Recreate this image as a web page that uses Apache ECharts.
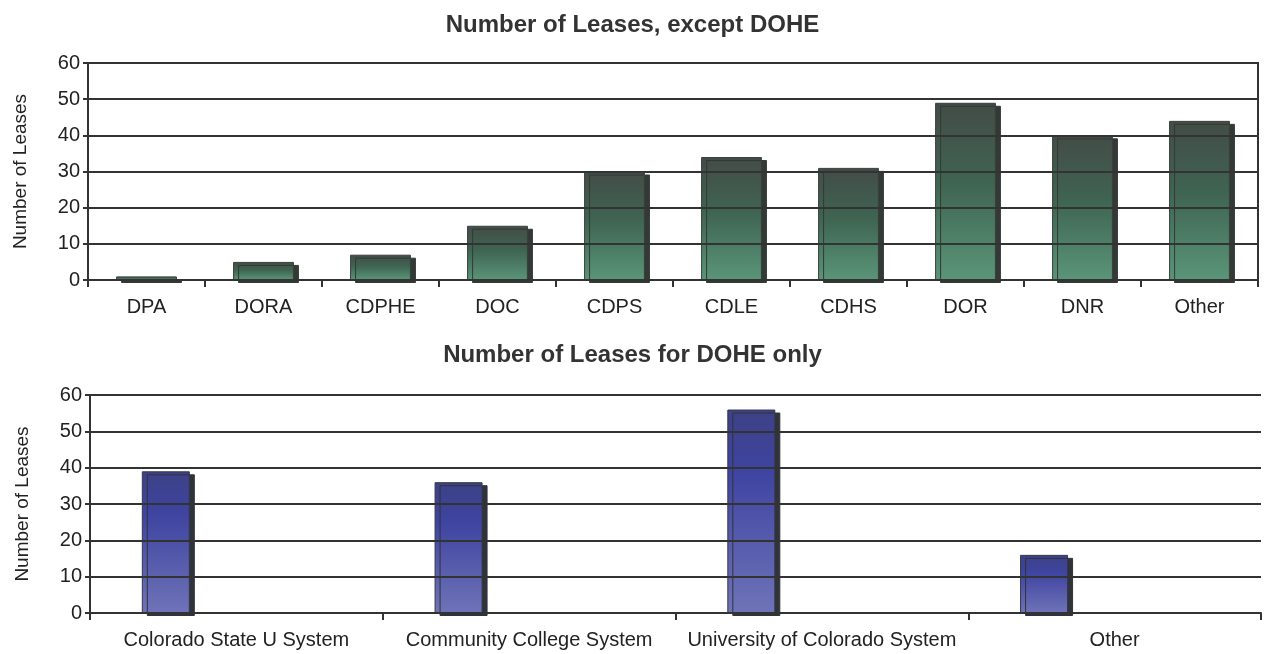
<!DOCTYPE html>
<html><head><meta charset="utf-8">
<script src="https://cdn.jsdelivr.net/npm/echarts@6/dist/echarts.min.js"></script>
<style>html,body{margin:0;padding:0;background:#fff}#c{width:1265px;height:654px}</style>
</head><body><div id="c"></div>
<script>
const topCategories = ['DPA','DORA','CDPHE','DOC','CDPS','CDLE','CDHS','DOR','DNR','Other'];
const topValues = [1,5,7,15,30,34,31,49,40,44];
const bottomCategories = ['Colorado State U System','Community College System','University of Colorado System','Other'];
const bottomValues = [39,36,56,16];
const yTicks = {min:0,max:60,interval:10};
const topTitle = 'Number of Leases, except DOHE';
const bottomTitle = 'Number of Leases for DOHE only';
const yName = 'Number of Leases';

const FONT = '"Liberation Sans", Arial, sans-serif';
const chart = echarts.init(document.getElementById('c'));
const greenGrad = new echarts.graphic.LinearGradient(0,0,0,1,[
  {offset:0,color:'#434c47'},{offset:0.45,color:'#3f6452'},{offset:1,color:'#5a9579'}]);
const blueGrad = new echarts.graphic.LinearGradient(0,0,0,1,[
  {offset:0,color:'#3d4186'},{offset:0.3,color:'#3e44a0'},{offset:1,color:'#6f73b8'}]);

function yAxis(gi){
  return {gridIndex:gi,type:'value',min:yTicks.min,max:yTicks.max,interval:yTicks.interval,
    name:yName,nameLocation:'middle',nameGap:58,nameRotate:90,
    nameTextStyle:{fontFamily:FONT,fontSize:19,color:'#222'},
    axisLine:{show:true,lineStyle:{color:'#333',width:2}},
    axisTick:{show:true,length:5,lineStyle:{color:'#333',width:2}},
    axisLabel:{fontFamily:FONT,fontSize:20,color:'#222',margin:8},
    splitLine:{show:true,lineStyle:{color:'#333',width:2}}, z:3};
}
function xAxis(gi,cats,margin){
  return {gridIndex:gi,type:'category',data:cats,
    axisLine:{show:true,onZero:true,lineStyle:{color:'#333',width:2}},
    axisTick:{show:true,length:7,lineStyle:{color:'#333',width:2}},
    axisLabel:{fontFamily:FONT,fontSize:20,color:'#222',margin:margin,interval:0},
    splitLine:{show:false}, z:5};
}
chart.setOption({
  animation:false,
  title:[
    {text:topTitle,left:'center',top:8,textStyle:{fontFamily:FONT,fontSize:24,fontWeight:'bold',color:'#333'}},
    {text:bottomTitle,left:'center',top:338,textStyle:{fontFamily:FONT,fontSize:24,fontWeight:'bold',color:'#333'}}
  ],
  grid:[
    {left:88,right:7,top:63,height:217,show:true,borderColor:'#333',borderWidth:2,backgroundColor:'transparent'},
    {left:90,right:4,top:395,height:218}
  ],
  xAxis:[xAxis(0,topCategories,17),xAxis(1,bottomCategories,17)],
  yAxis:[yAxis(0),yAxis(1)],
  series:[
    {type:'bar',xAxisIndex:0,yAxisIndex:0,data:topValues,barWidth:'52%',
      itemStyle:{color:greenGrad,borderColor:'#3a3f3c',borderWidth:1,
        shadowColor:'#333a36',shadowOffsetX:5,shadowOffsetY:3,shadowBlur:0}},
    {type:'bar',xAxisIndex:1,yAxisIndex:1,data:bottomValues,barWidth:48,barGap:'194%',
      itemStyle:{color:blueGrad,borderColor:'#35384a',borderWidth:1,
        shadowColor:'#30343a',shadowOffsetX:5,shadowOffsetY:3,shadowBlur:0}},
    {type:'bar',xAxisIndex:1,yAxisIndex:1,data:bottomValues.map(()=>null),barWidth:48}
  ]
});
</script></body></html>
